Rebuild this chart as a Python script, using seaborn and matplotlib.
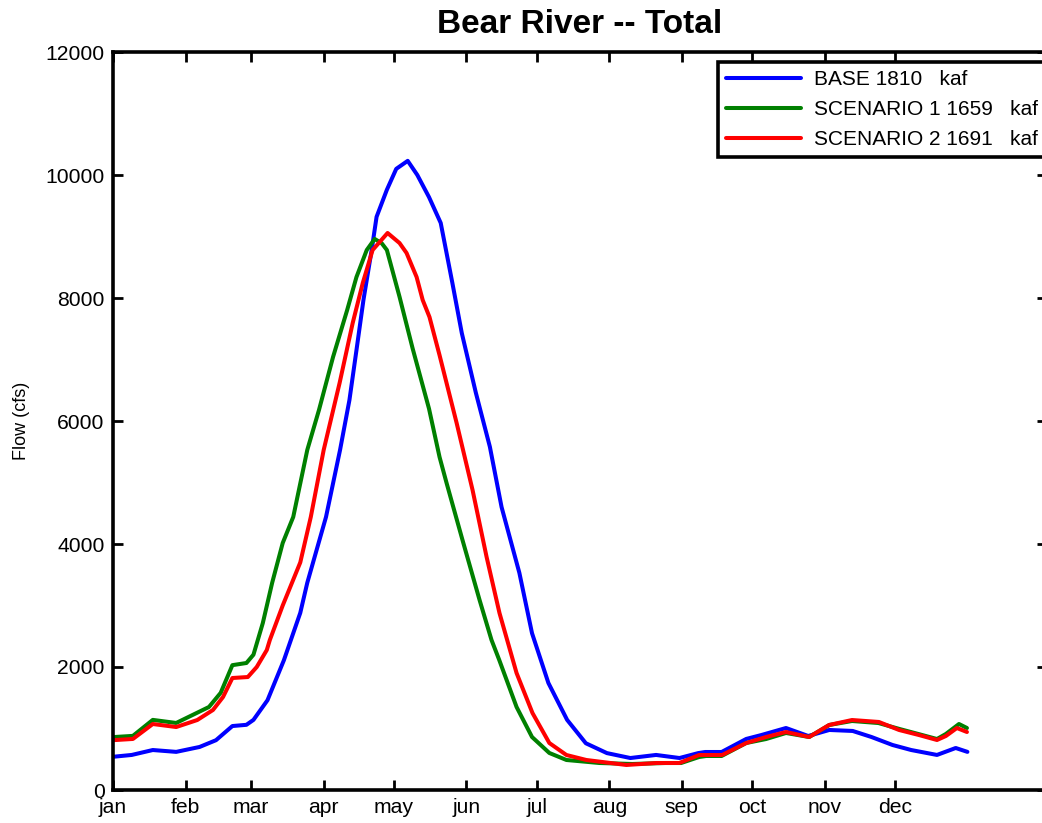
import numpy as np
import pandas as pd
import matplotlib
matplotlib.use("Agg")
import matplotlib.pyplot as plt
import seaborn as sns

# ---- data (day of year, flow in cfs) ----
base_day = [1, 9, 18, 28, 38, 45, 52, 58, 61, 67, 74, 76, 81, 84, 92, 98, 102, 105, 108,
            111.5, 113.6, 118, 122, 126.9, 131, 136, 141, 146, 150, 156, 162, 167, 174.6,
            180, 187, 195, 203, 212, 222, 233, 243, 251, 254, 261, 271.5, 278, 288.5, 298,
            307, 317, 325, 334, 342, 353, 361, 366]
base_flow = [540, 570, 650, 620, 700, 810, 1040, 1060, 1140, 1460, 2110, 2330, 2880, 3370,
             4440, 5530, 6340, 7150, 7970, 8780, 9320, 9760, 10100, 10230, 10000, 9640, 9220,
             8240, 7430, 6460, 5580, 4600, 3530, 2550, 1740, 1140, 760, 600, 520, 570, 520,
             600, 618, 618, 830, 894, 1008, 878, 976, 960, 862, 732, 650, 570, 683, 620]

s1_day = [1, 9.5, 18, 28, 35, 42, 47, 52, 58, 61, 65, 69, 73.5, 78, 84, 89, 95, 101, 105,
          109.4, 112.8, 115.8, 118, 123.4, 129, 136, 140.5, 143.5, 150.3, 157.6, 162.7, 166,
          173.4, 180, 187.4, 194.7, 208.8, 222.8, 237, 243.7, 251.4, 254.4, 261, 271.5, 280,
          288.5, 298.4, 307, 316.7, 328, 337, 345, 353, 356.8, 362.4, 365.8]
s1_flow = [860, 880, 1140, 1090, 1220, 1350, 1580, 2030, 2065, 2200, 2715, 3370, 4016, 4440,
           5530, 6180, 7040, 7800, 8340, 8780, 8960, 8890, 8780, 8020, 7180, 6200, 5414, 4992,
           4065, 3089, 2439, 2114, 1350, 862, 602, 488, 439, 423, 439, 439, 537, 553, 553, 764,
           829, 927, 862, 1057, 1122, 1089, 992, 911, 829, 911, 1073, 1008]

s2_day = [1, 9.5, 18, 28, 37, 43.7, 48, 52, 58.6, 62.4, 66.7, 68, 73.5, 81, 85.5, 91, 97.8,
          103.4, 107.7, 111.9, 118.3, 123.4, 126.4, 130.7, 133.3, 136.2, 140.5, 147.8, 154.6,
          160.6, 166.1, 173.4, 180.2, 187.4, 194.7, 203.2, 220.3, 233.1, 242.9, 251.4, 254.4,
          261.2, 271.5, 280, 288.5, 298.4, 306.9, 316.7, 328.2, 336.8, 345.3, 353, 356.8,
          361.5, 365.8]
s2_flow = [810, 830, 1073, 1024, 1138, 1301, 1512, 1821, 1837, 2000, 2276, 2439, 3000, 3700,
           4440, 5528, 6618, 7594, 8244, 8780, 9057, 8894, 8732, 8341, 7967, 7691, 7070, 5967,
           4878, 3789, 2878, 1902, 1252, 764, 569, 488, 407, 439, 439, 569, 569, 569, 764, 862,
           943, 862, 1057, 1138, 1106, 976, 894, 813, 878, 1008, 943]

series_names = ["BASE 1810   kaf", "SCENARIO 1 1659   kaf", "SCENARIO 2 1691   kaf"]
series_colors = ["#0000ff", "#008000", "#ff0000"]

month_days = [1, 32, 60, 91, 121, 152, 182, 213, 244, 274, 305, 335]
month_labels = ["jan", "feb", "mar", "apr", "may", "jun", "jul", "aug", "sep", "oct", "nov", "dec"]
y_ticks = [0, 2000, 4000, 6000, 8000, 10000, 12000]

# ---- style ----
sns.set_style("ticks")
plt.rcParams["font.family"] = ["Liberation Sans", "DejaVu Sans"]
plt.rcParams["text.color"] = "black"
plt.rcParams["axes.labelcolor"] = "black"

fig = plt.figure(figsize=(10.42, 8.23), dpi=100)
ax = fig.add_axes([113 / 1042, 33 / 823, 934 / 1042, 738 / 823])

frames = []
for d, f, n in zip([base_day, s1_day, s2_day], [base_flow, s1_flow, s2_flow], series_names):
    frames.append(pd.DataFrame({"day": d, "flow": f, "series": n}))
df = pd.concat(frames, ignore_index=True)

sns.lineplot(data=df, x="day", y="flow", hue="series", hue_order=series_names,
             palette=series_colors, linewidth=2.9, ax=ax, sort=True, estimator=None)
for ln in ax.get_lines():
    ln.set_solid_joinstyle("round")
    ln.set_solid_capstyle("round")

ax.set_xlim(1, 400)
ax.set_ylim(0, 12000)
ax.set_xticks(month_days)
ax.set_xticklabels(month_labels)
ax.set_yticks(y_ticks)
ax.set_yticklabels([str(v) for v in y_ticks])
ax.tick_params(direction="in", length=7, width=2, top=True, right=True,
               labelsize=15.2, pad=6, colors="black")
for sp in ax.spines.values():
    sp.set_visible(True)
    sp.set_linewidth(2.6)
    sp.set_color("black")

ax.set_xlabel("")
ax.set_ylabel("Flow (cfs)", fontsize=13, labelpad=11, color="black")
ax.set_title("Bear River -- Total", fontsize=24, fontweight="bold", pad=14, color="black")

leg_h = 93 / 823
leg = ax.legend(loc="upper left",
                bbox_to_anchor=(718 / 1042, 1 - 62 / 823 - leg_h, 345 / 1042, leg_h),
                bbox_transform=fig.transFigure, mode="expand", fontsize=15,
                frameon=True, fancybox=False, framealpha=1, edgecolor="black",
                handlelength=3.6, labelspacing=0.52, borderpad=0.4, handletextpad=0.6,
                borderaxespad=0)
leg.get_frame().set_linewidth(2.6)
for line in leg.get_lines():
    line.set_linewidth(2.9)
for t in leg.get_texts():
    t.set_color("black")

fig.savefig("out.png", dpi=100)
